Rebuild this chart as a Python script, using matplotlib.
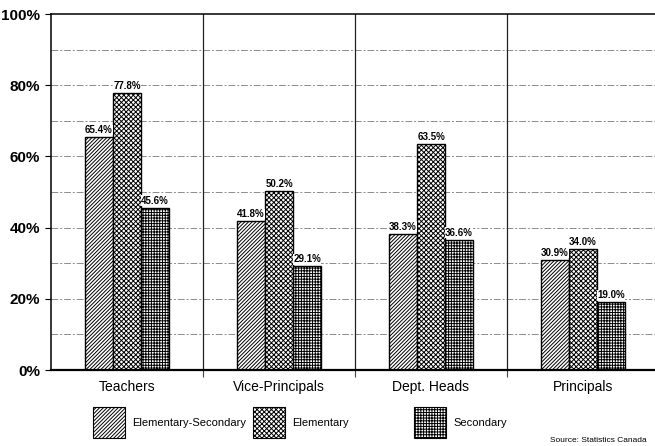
import matplotlib
matplotlib.use("Agg")
import matplotlib.pyplot as plt
from matplotlib.patches import Rectangle
import numpy as np

plt.rcParams['font.family'] = ['Liberation Sans', 'DejaVu Sans']
plt.rcParams['hatch.linewidth'] = 0.7

categories = ["Teachers", "Vice-Principals", "Dept. Heads", "Principals"]
series_names = ["Elementary-Secondary", "Elementary", "Secondary"]
elem_sec = [65.4, 41.8, 38.3, 30.9]
elementary = [77.8, 50.2, 63.5, 34.0]
secondary = [45.6, 29.1, 36.6, 19.0]
y_ticks = [0, 20, 40, 60, 80, 100]
y_tick_labels = ["0%", "20%", "40%", "60%", "80%", "100%"]

series = [elem_sec, elementary, secondary]
hatches = ["/////////", "xxxxxxx", "++++++"]

W, H = 655, 446
fig = plt.figure(figsize=(W / 100, H / 100), dpi=100)
ax = fig.add_axes([51 / W, 76 / H, 608 / W, 356 / H])

x = np.arange(len(categories))
bw = 0.185
offsets = [-bw, 0, bw]

# gridlines at every 10%
for v in range(10, 100, 10):
    ax.axhline(v, color="#8c8c8c", lw=0.7, ls=(0, (7, 2, 2, 2)), zorder=0)

# group separators
for d in [0.5, 1.5, 2.5]:
    ax.axvline(d, color="#222222", lw=0.9, zorder=1)

for vals, off, h in zip(series, offsets, hatches):
    bars = ax.bar(x + off, vals, width=bw, facecolor="white", edgecolor="black",
                  hatch=h, lw=1.0, zorder=2)
    for b, v in zip(bars, vals):
        ax.text(b.get_x() + b.get_width() / 2, v + 0.6, f"{v:.1f}%",
                ha="center", va="bottom", fontsize=7, fontweight="heavy",
                zorder=4,
                bbox=dict(facecolor="white", edgecolor="none", pad=0.3))

ax.set_xlim(-0.5, 3.5)
ax.set_ylim(0, 100)
ax.set_yticks(y_ticks)
ax.set_yticklabels(y_tick_labels, fontsize=11, fontweight="bold")
ax.set_xticks(x)
ax.set_xticklabels(categories, fontsize=10)
ax.set_xticks([0.5, 1.5, 2.5], minor=True)
ax.tick_params(axis="x", which="major", length=0, pad=7)
ax.tick_params(axis="x", which="minor", length=5, width=0.8, color="#444444")
ax.tick_params(axis="y", length=4, width=0.8, pad=4)

for s in ["top", "left"]:
    ax.spines[s].set_linewidth(1.1)
ax.spines["bottom"].set_linewidth(1.6)
ax.spines["right"].set_visible(False)

# legend drawn as swatches below the plot
legend_x = [93, 253, 414]
for name, h, lx in zip(series_names, hatches, legend_x):
    fig.add_artist(Rectangle((lx / W, (H - 438) / H), 32 / W, 31 / H,
                             transform=fig.transFigure, facecolor="white",
                             edgecolor="black", hatch=h, lw=0.8))
    fig.text((lx + 39) / W, (H - 423) / H, name, fontsize=8, va="center",
             ha="left")

fig.text(550 / W, (H - 440) / H, "Source: Statistics Canada", fontsize=6,
         va="center", ha="left")

fig.savefig("out.png", dpi=100)
